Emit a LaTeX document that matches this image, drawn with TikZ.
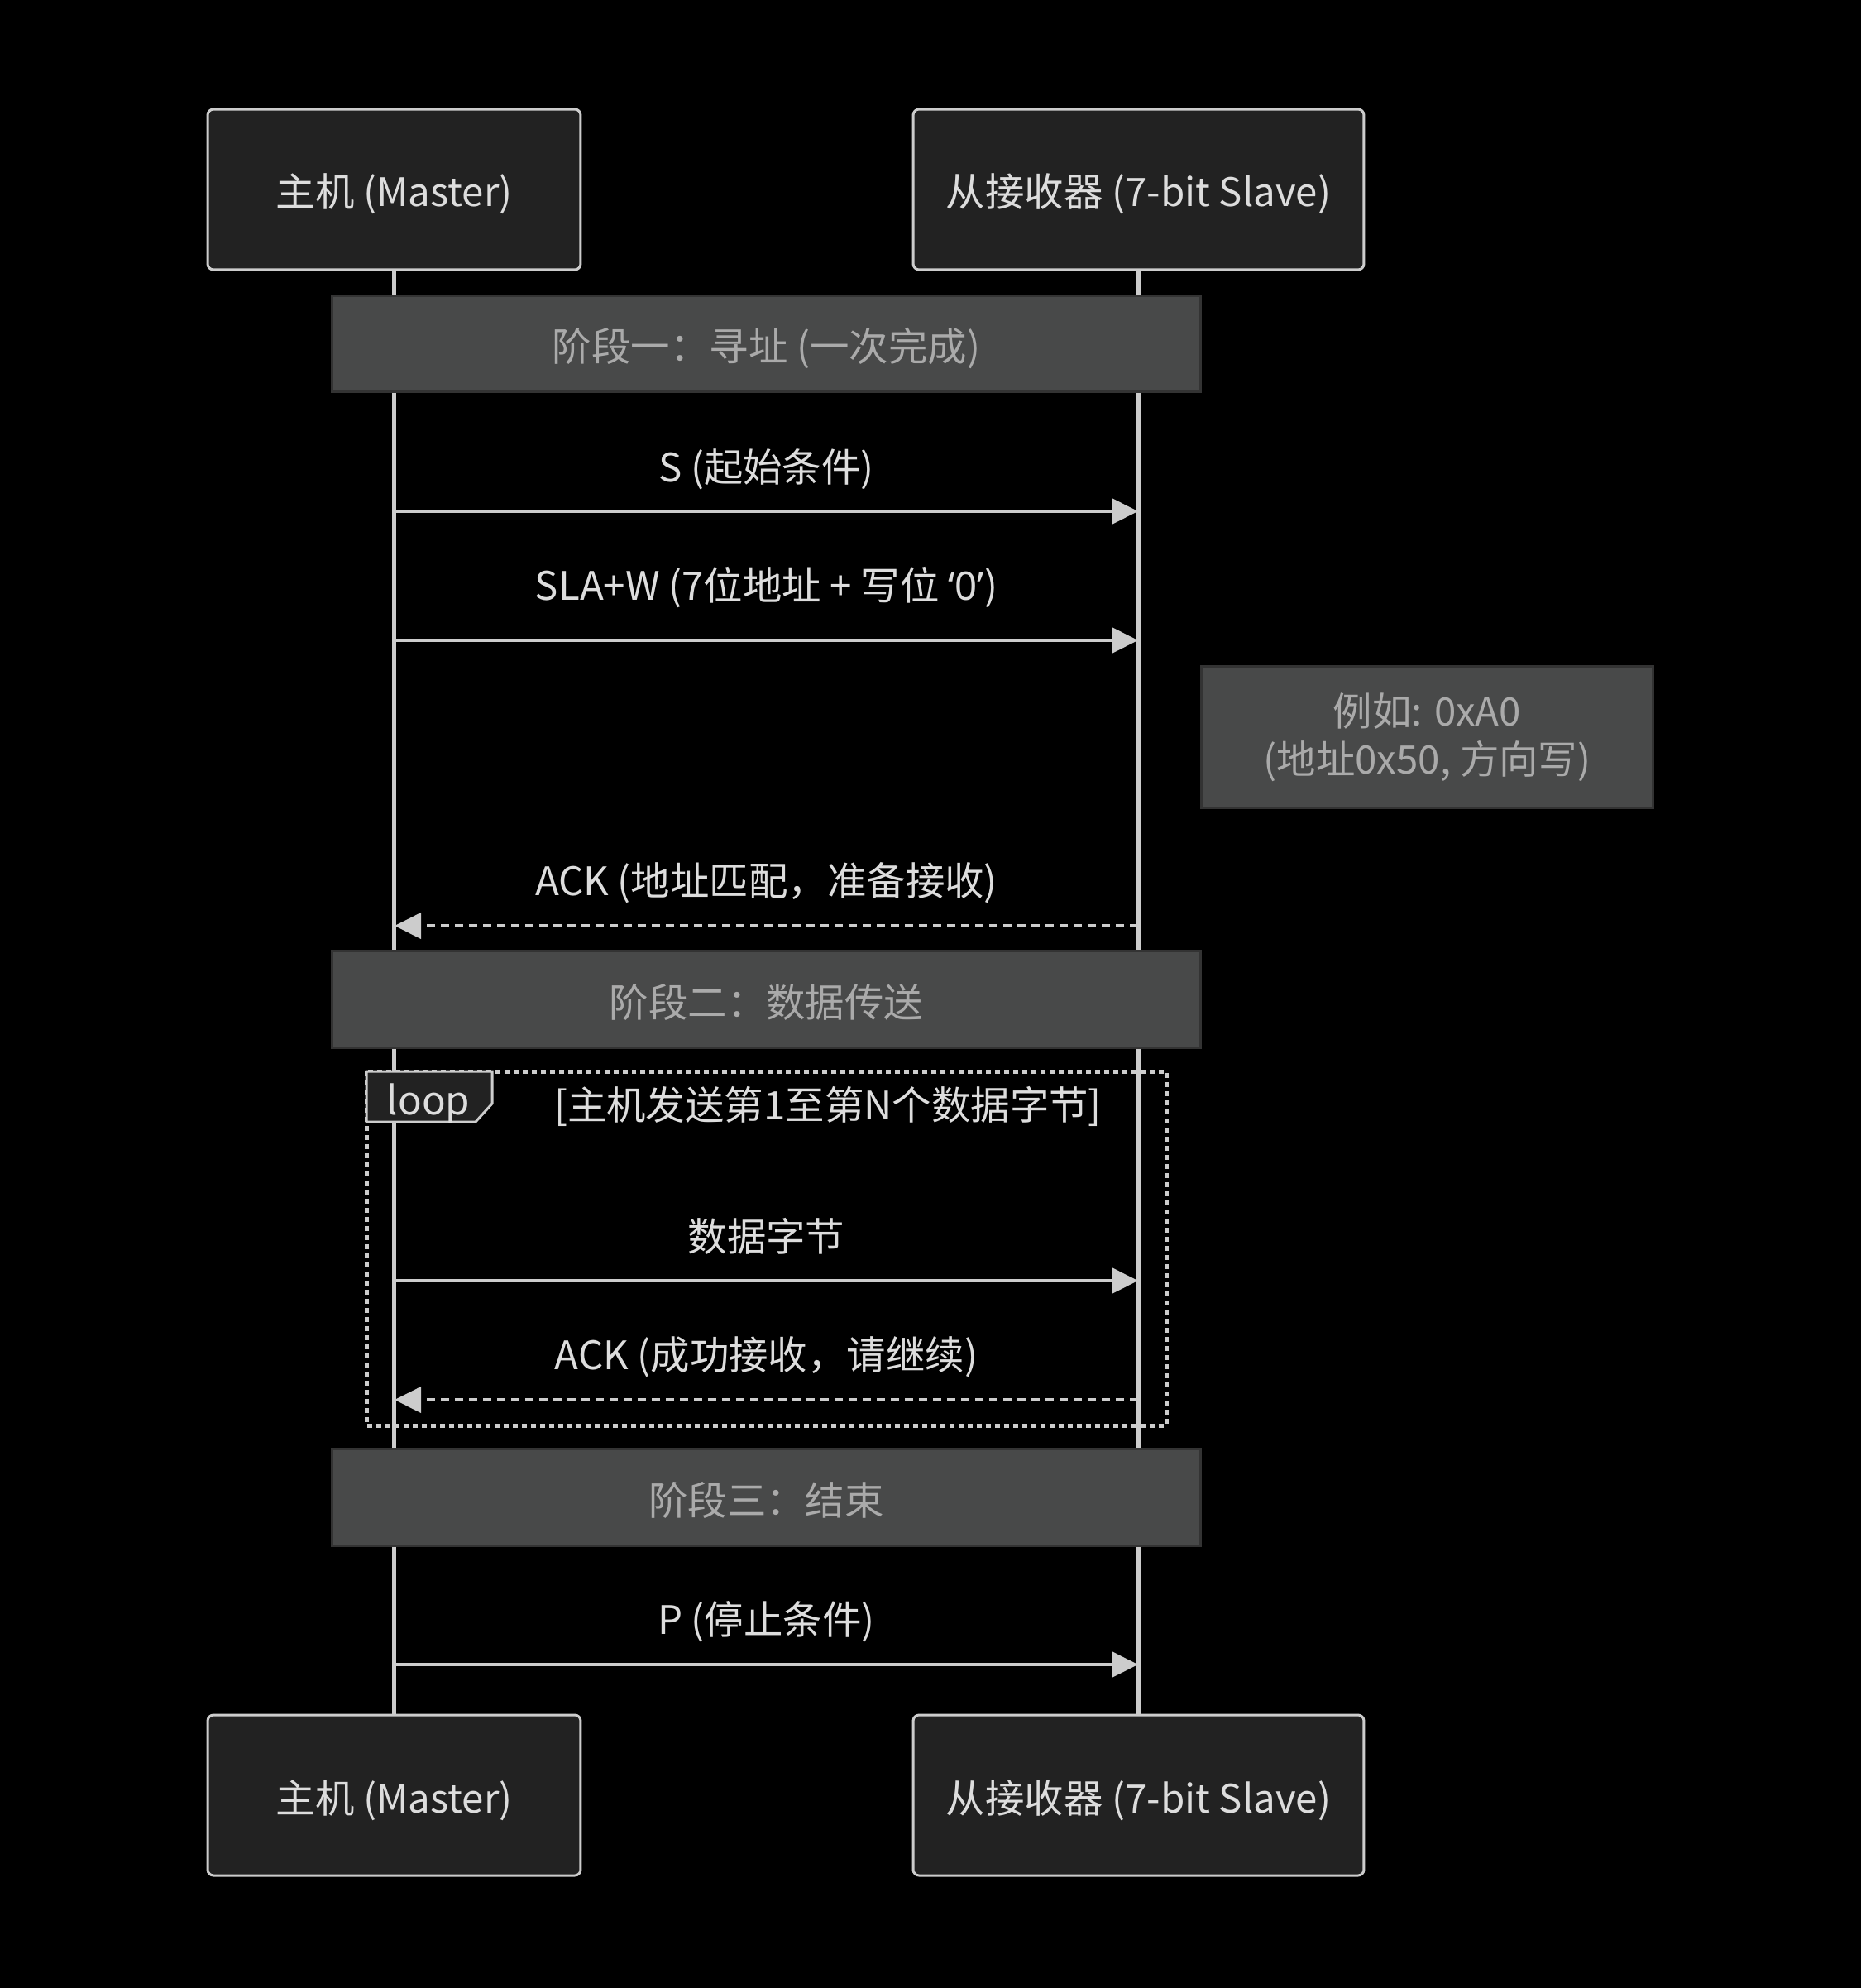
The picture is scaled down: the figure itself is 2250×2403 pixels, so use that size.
\documentclass[tikz,border=0pt]{standalone}
\usepackage{fontspec}
\setmainfont{Noto Sans CJK SC}
\newfontfamily\quotefont{Noto Sans}
\usetikzlibrary{arrows.meta,positioning}
\usepackage{xcolor}
\definecolor{actorfill}{HTML}{222222}
\definecolor{linegray}{HTML}{CCCCCC}
\definecolor{phasefill}{HTML}{484949}
\definecolor{phaseedge}{HTML}{333333}
\definecolor{phasetext}{HTML}{AAAAAA}
\definecolor{msgtext}{HTML}{DDDDDD}

\begin{document}
\begin{tikzpicture}[
  x=0.02cm, y=-0.02cm,
  every node/.style={font=\fontsize{27}{33}\selectfont},
  actor/.style={draw=linegray, line width=0.06cm, fill=actorfill,
                rounded corners=0.14cm, minimum height=3.88cm, text=msgtext,
                text height=1.04cm, text depth=0.2cm},
  lifeline/.style={linegray, line width=0.1cm},
  phase/.style={draw=phaseedge, line width=0.06cm, fill=phasefill,
                minimum width=21cm, minimum height=2.34cm, text=phasetext,
                text height=1.04cm, text depth=0.2cm},
  note/.style={draw=phaseedge, line width=0.06cm, fill=phasefill,
               minimum width=10.94cm, minimum height=3.44cm, text=phasetext,
               align=center},
  msg/.style={linegray, line width=0.08cm,
              -{Triangle[length=0.64cm, width=0.62cm]}},
  reply/.style={msg, dash pattern=on 0.2cm off 0.14cm},
  msglabel/.style={text=msgtext},
]
  % background
  \fill[black] (0,0) rectangle (2250,2403);
  \useasboundingbox (0,0) rectangle (2250,2403);

  % --- Participants ---
  \node[actor, minimum width=9.02cm]  (mtop) at (476.5,229)  {主机 (Master)};
  \node[actor, minimum width=10.9cm]  (stop) at (1376.5,229) {从接收器 (7-bit Slave)};
  \node[actor, minimum width=9.02cm]  (mbot) at (476.5,2170) {主机 (Master)};
  \node[actor, minimum width=10.9cm]  (sbot) at (1376.5,2170) {从接收器 (7-bit Slave)};

  % lifelines
  \draw[lifeline] (mtop.south) -- (mbot.north);
  \draw[lifeline] (stop.south) -- (sbot.north);

  % message end points
  \foreach \name/\y in {s/618, sla/774, ack/1119, data/1548, ackb/1692, p/2012} {
    \coordinate (m-\name) at (477,\y);
    \coordinate (s-\name) at (1376,\y);
  }

  % --- Phase 1 ---
  \node[phase] (phase1) at (926.5,415.5) {阶段一：寻址 (一次完成)};

  \draw[msg] (m-s) -- (s-s)
    node[msglabel, midway, yshift=1.02cm] (lbls) {S (起始条件)};
  \draw[msg] (m-sla) -- (s-sla)
    node[msglabel, midway, yshift=1.28cm] (lblsla)
    {SLA+W (7位地址 + 写位 {\quotefont ‘0’})};

  \node[note] (addrnote) at (1725.5,891) {例如: 0xA0\\(地址0x50, 方向写)};

  \draw[reply] (s-ack) -- (m-ack)
    node[msglabel, midway, yshift=1.04cm] (lblack) {ACK (地址匹配，准备接收)};

  % --- Phase 2 ---
  \node[phase] (phase2) at (926.5,1208) {阶段二：数据传送};

  % loop frame
  \draw[linegray, line width=0.1cm, dash pattern=on 0.12cm off 0.1cm]
    (443,1295) rectangle (1410,1723);
  \draw[linegray, line width=0.06cm, fill=actorfill]
    (443,1295) -- (595,1295) -- (595,1334) -- (575,1356) -- (443,1356) -- cycle;
  \node[msglabel] (looptag) at (518,1334) {loop};
  \node[msglabel] (loopcond) at (1001,1337) {[主机发送第1至第N个数据字节]};

  \draw[msg] (m-data) -- (s-data)
    node[msglabel, midway, yshift=1.08cm] (lbldata) {数据字节};
  \draw[reply] (s-ackb) -- (m-ackb)
    node[msglabel, midway, yshift=1.04cm] (lblackb) {ACK (成功接收，请继续)};

  % --- Phase 3 ---
  \node[phase] (phase3) at (926.5,1810) {阶段三：结束};

  \draw[msg] (m-p) -- (s-p)
    node[msglabel, midway, yshift=1.04cm] (lblp) {P (停止条件)};
\end{tikzpicture}
\end{document}
